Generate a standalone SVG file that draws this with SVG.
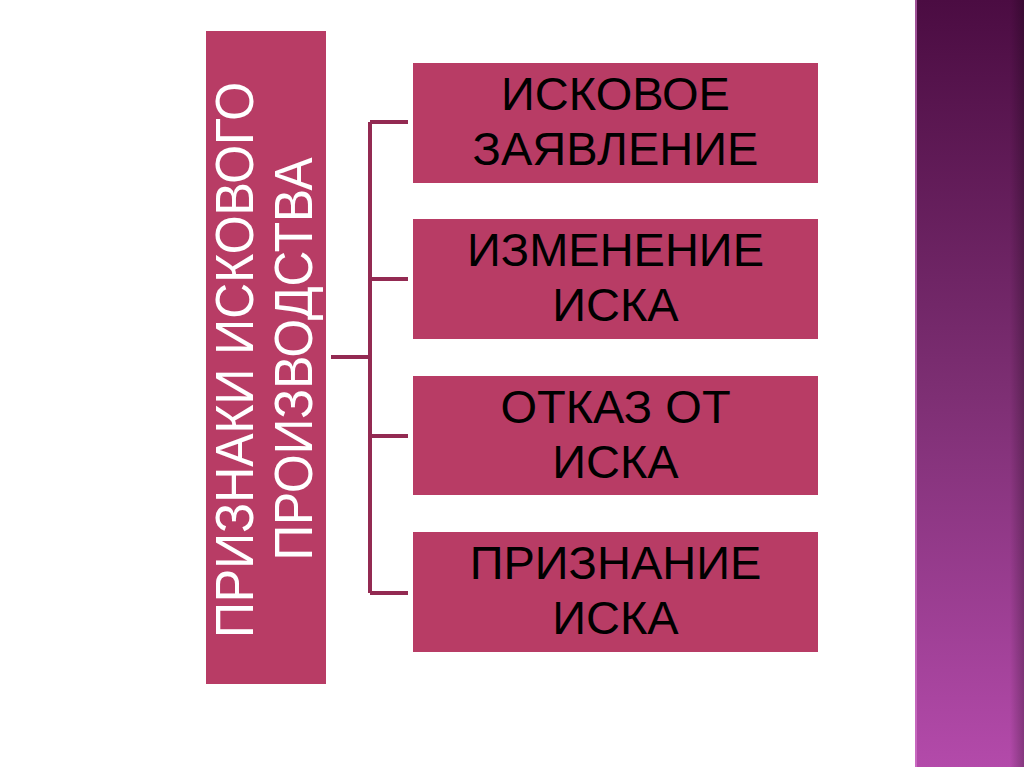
<svg xmlns="http://www.w3.org/2000/svg" width="1024" height="767" viewBox="0 0 1024 767">
<defs>
<linearGradient id="strip" x1="0" y1="0" x2="0" y2="1">
<stop offset="0" stop-color="#4b0c42"/>
<stop offset="0.5" stop-color="#7c2e72"/>
<stop offset="1" stop-color="#b34aaa"/>
</linearGradient>
<linearGradient id="edge" x1="0" y1="0" x2="1" y2="0">
<stop offset="0" stop-color="#000" stop-opacity="0"/>
<stop offset="1" stop-color="#000" stop-opacity="0.25"/>
</linearGradient>
<style>
.box{fill:#b83c65;}
.conn{stroke:#932a52;stroke-width:4;fill:none;}
.lbl{font-family:"Liberation Sans",Arial,sans-serif;font-size:47px;fill:#000;text-anchor:middle;}
.vlbl{font-family:"Liberation Sans",Arial,sans-serif;font-size:54px;fill:#fff;text-anchor:middle;}
</style>
</defs>
<rect width="1024" height="767" fill="#ffffff"/>
<g id="strip-bg">
<rect x="915" y="0" width="109" height="767" fill="url(#strip)"/>
<rect x="1010" y="0" width="14" height="767" fill="url(#edge)"/>
<rect x="915" y="0" width="2" height="767" fill="#d77fcf" opacity="0.6"/>
</g>
<g id="connectors">
<path class="conn" d="M331 357 H370"/>
<path class="conn" d="M370 122 V593"/>
<path class="conn" d="M370 122 H408"/>
<path class="conn" d="M370 279 H408"/>
<path class="conn" d="M370 436 H408"/>
<path class="conn" d="M370 593 H408"/>
</g>
<g id="root">
<rect class="box" x="206" y="31" width="120" height="653"/>
<text class="vlbl" transform="translate(253,360) rotate(-90)" textLength="556" lengthAdjust="spacingAndGlyphs">ПРИЗНАКИ ИСКОВОГО</text>
<text class="vlbl" transform="translate(312,359) rotate(-90)" textLength="403" lengthAdjust="spacingAndGlyphs">ПРОИЗВОДСТВА</text>
</g>
<g id="n1">
<rect class="box" x="413" y="63" width="405" height="120"/>
<text class="lbl" x="615.5" y="110">ИСКОВОЕ</text>
<text class="lbl" x="615.5" y="165">ЗАЯВЛЕНИЕ</text>
</g>
<g id="n2">
<rect class="box" x="413" y="219" width="405" height="120"/>
<text class="lbl" x="615.5" y="266">ИЗМЕНЕНИЕ</text>
<text class="lbl" x="615.5" y="321">ИСКА</text>
</g>
<g id="n3">
<rect class="box" x="413" y="376" width="405" height="119"/>
<text class="lbl" x="615.5" y="423">ОТКАЗ ОТ</text>
<text class="lbl" x="615.5" y="478">ИСКА</text>
</g>
<g id="n4">
<rect class="box" x="413" y="532" width="405" height="120"/>
<text class="lbl" x="615.5" y="579">ПРИЗНАНИЕ</text>
<text class="lbl" x="615.5" y="634">ИСКА</text>
</g>
</svg>
